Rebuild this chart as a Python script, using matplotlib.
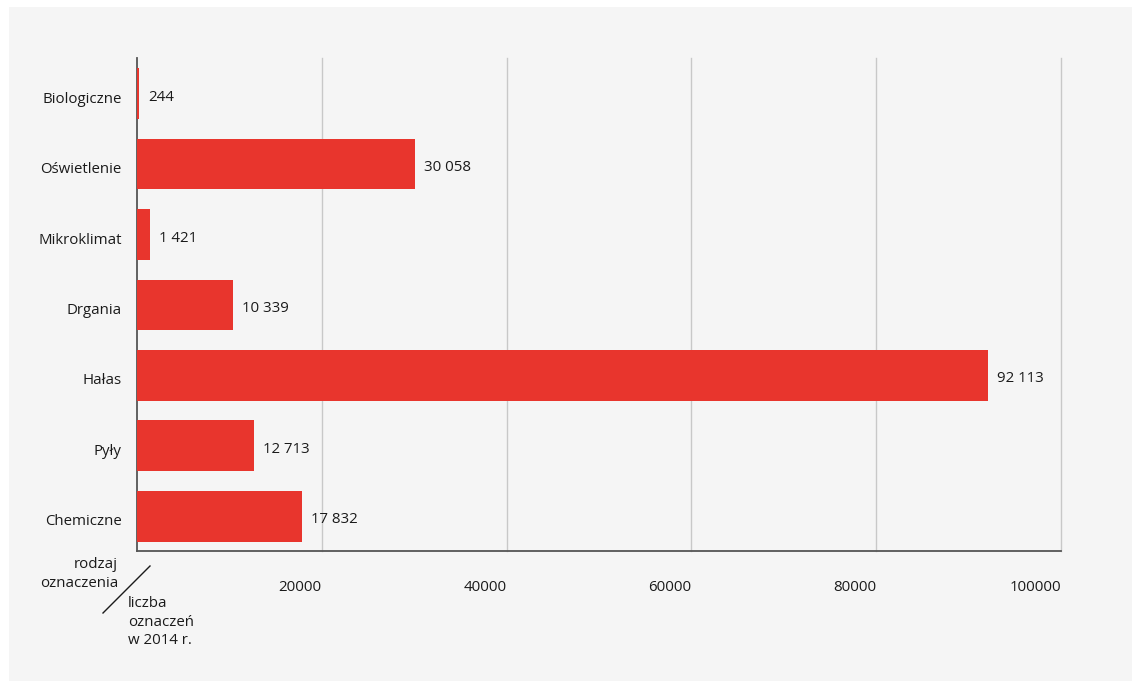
import matplotlib.pyplot as plt
from matplotlib.patches import Rectangle
from matplotlib.lines import Line2D
from matplotlib.transforms import ScaledTranslation

plt.rcParams['font.family'] = ['Open Sans', 'DejaVu Sans']

# liczba oznaczeń czynników szkodliwych w 2014 r.
categories = ['Biologiczne', 'Oświetlenie', 'Mikroklimat', 'Drgania', 'Hałas', 'Pyły', 'Chemiczne']
values = [244, 30058, 1421, 10339, 92113, 12713, 17832]
x_ticks = [20000, 40000, 60000, 80000, 100000]

bar_color = '#e8352d'
bg_color = '#f5f5f5'
text_color = '#1a1a1a'
fs = 10.8

W, H = 1132, 681
fig = plt.figure(figsize=(W / 100, H / 100), dpi=100, facecolor='white')
fig.patches.append(Rectangle((9 / W, 0), 1 - 9 / W, 1 - 7 / H, transform=fig.transFigure,
                             facecolor=bg_color, edgecolor='none', zorder=-10))

ax = fig.add_axes([137 / W, 1 - 551 / H, (1061 - 137) / W, (551 - 58) / H])
ax.set_facecolor(bg_color)

pos = list(range(len(categories)))
ax.barh(pos, values, height=0.72, color=bar_color, zorder=3)

for p, v in zip(pos, values):
    label = f'{v:,}'.replace(',', ' ')
    ax.annotate(label, (v, p), xytext=(6.5, -2.5), textcoords='offset points',
                va='center', ha='left', fontsize=fs, color=text_color)

ax.set_xlim(0, 100000)
ax.set_ylim(6.493, -0.507)
ax.set_yticks(pos)
ax.set_yticklabels(categories, fontsize=fs, color=text_color)
ax.set_xticks(x_ticks)
ax.set_xticklabels([str(t) for t in x_ticks], fontsize=fs, color=text_color, ha='right')
ax.tick_params(axis='y', length=0, pad=11)
ax.tick_params(axis='x', length=0, pad=21)

# nazwy kategorii nieco niżej, na wysokości etykiet wartości
shift = ScaledTranslation(0, -0.035, fig.dpi_scale_trans)
for lbl in ax.get_yticklabels():
    lbl.set_transform(lbl.get_transform() + shift)

ax.grid(axis='x', color='#c8c8c8', linewidth=1, zorder=0)
for gl in ax.get_xgridlines():
    gl.set_clip_on(False)
ax.set_axisbelow(True)
for side in ('top', 'right'):
    ax.spines[side].set_visible(False)
for side in ('left', 'bottom'):
    ax.spines[side].set_color('#555555')
    ax.spines[side].set_linewidth(1.3)

# opis osi w lewym dolnym rogu
fig.lines.append(Line2D([103 / W, 150 / W], [1 - 613 / H, 1 - 566 / H],
                        transform=fig.transFigure, color=text_color, linewidth=1))
fig.text(118 / W, 1 - 574 / H, 'rodzaj\noznaczenia', ha='right', va='center',
         fontsize=fs, color=text_color, linespacing=1.3)
fig.text(128 / W, 1 - 622 / H, 'liczba\noznaczeń\nw 2014 r.', ha='left', va='center',
         fontsize=fs, color=text_color, linespacing=1.3)

fig.savefig('out.png', dpi=100, facecolor='white')
